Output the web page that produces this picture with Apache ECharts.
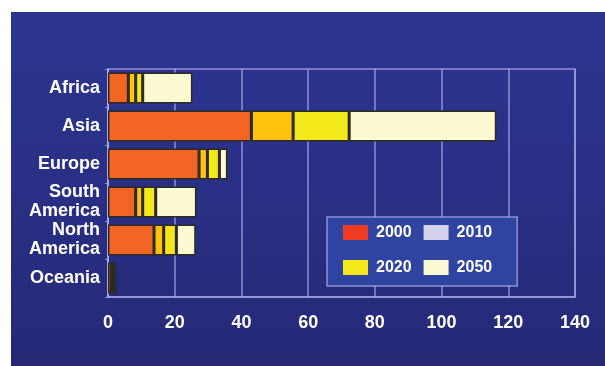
<!DOCTYPE html>
<html>
<head>
<meta charset="utf-8">
<script src="https://cdn.jsdelivr.net/npm/echarts@6/dist/echarts.min.js"></script>
<style>
  html, body { margin: 0; padding: 0; background: #fff; }
  #chart { width: 605px; height: 366px; }
</style>
</head>
<body>
<div id="chart"></div>
<script>
const categories = ['Africa', 'Asia', 'Europe', 'South\nAmerica', 'North\nAmerica', 'Oceania']
const years = ['2000', '2010', '2020', '2050']
const v2000 = [6.1, 43.0, 27.3, 8.3, 13.8, 1.0]
const v2010 = [2.2, 12.5, 2.5, 2.1, 2.9, 0.5]
const v2020 = [2.1, 16.8, 3.6, 3.9, 3.8, 0.5]
const v2050 = [14.9, 44.1, 2.4, 12.2, 5.8, 0.5]
const xTicks = [0, 20, 40, 60, 80, 100, 120, 140]

const barColors = ['#f26522', '#fec20f', '#f2e81a', '#fbf9d2']
const legendColors = ['#ee3b24', '#d5d3ec', '#f2e81a', '#fbf9d2']
const values = [v2000, v2010, v2020, v2050]
const font = 'Liberation Sans, Arial, sans-serif'
const lineColor = 'rgba(175,175,235,0.75)'

const myChart = echarts.init(document.getElementById('chart'))

let option = {
  backgroundColor: '#ffffff',
  graphic: [{
    type: 'rect',
    z: -10,
    shape: { x: 11, y: 12, width: 594, height: 354 },
    style: {
      fill: new echarts.graphic.LinearGradient(0, 0, 0, 1, [
        { offset: 0, color: '#2b3591' },
        { offset: 1, color: '#272977' }
      ])
    }
  }],
  grid: {
    left: 108, right: 30, top: 69, bottom: 69,
    show: true,
    borderColor: lineColor,
    borderWidth: 1.5,
    backgroundColor: 'transparent'
  },
  legend: {
    left: 327,
    top: 217,
    width: 150,
    padding: [4, 25, 7, 16],
    itemWidth: 25,
    itemHeight: 15,
    itemGap: 12,
    icon: 'rect',
    backgroundColor: '#2f44a0',
    borderColor: lineColor,
    borderWidth: 1.5,
    textStyle: {
      color: '#fff', fontSize: 16, fontWeight: 'bold', fontFamily: font,
      lineHeight: 23, height: 23, padding: [0, 0, 0, 3]
    },
    data: years.map((y, i) => ({
      name: y,
      itemStyle: { color: legendColors[i], borderWidth: 0 }
    }))
  },
  xAxis: {
    type: 'value',
    min: xTicks[0],
    max: xTicks[xTicks.length - 1],
    interval: 20,
    axisLine: { show: true, lineStyle: { color: lineColor, width: 1.5 } },
    axisTick: { show: false },
    splitLine: { show: true, lineStyle: { color: lineColor, width: 1.5 } },
    axisLabel: {
      color: '#fff', fontSize: 18, fontWeight: 'bold', fontFamily: font, margin: 17
    }
  },
  yAxis: {
    type: 'category',
    inverse: true,
    data: categories,
    axisLine: { show: true, lineStyle: { color: lineColor, width: 1.5 } },
    axisTick: { show: true, length: 3, lineStyle: { color: lineColor } },
    axisLabel: {
      color: '#fff', fontSize: 18, fontWeight: 'bold', fontFamily: font,
      lineHeight: 19, margin: 8
    }
  },
  series: years.map((y, i) => ({
    name: y,
    type: 'bar',
    stack: 'total',
    barWidth: 31,
    data: values[i],
    itemStyle: {
      color: barColors[i],
      borderColor: '#2e2a1e',
      borderWidth: 1.5
    }
  }))
}

myChart.setOption(option)
</script>
</body>
</html>
